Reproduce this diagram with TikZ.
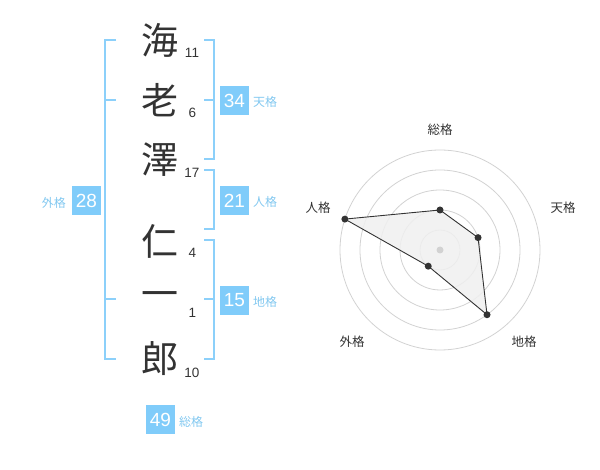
\documentclass[tikz,border=0pt]{standalone}
\usepackage{fontspec}
\usetikzlibrary{calc}
\setmainfont{Liberation Sans}
\newfontfamily\jp{Noto Sans CJK JP}
\definecolor{bline}{RGB}{140,208,250}
\definecolor{bbox}{RGB}{128,204,250}
\definecolor{blabel}{RGB}{130,200,240}
\definecolor{dk}{RGB}{51,51,51}
\definecolor{ring}{RGB}{210,210,210}
\definecolor{poly}{RGB}{240,240,240}
\begin{document}
\begin{tikzpicture}[x=1pt,y=-1pt,
  kanji/.style={font=\fontsize{37}{37}\selectfont\jp, text=dk, inner sep=0pt},
  strokes/.style={font=\fontsize{13.5}{13.5}\selectfont, text=dk, inner sep=0pt},
  bracket/.style={draw=bline, line width=2pt},
  valbox/.style={fill=bbox, minimum width=29pt, minimum height=29pt, inner sep=0pt, text=white, font=\fontsize{19}{19}\selectfont},
  kaku/.style={font=\fontsize{12}{12}\selectfont\jp, text=blabel, inner sep=0pt},
  axislab/.style={font=\fontsize{12.5}{12.5}\selectfont\jp, text=dk, inner sep=0pt},
  dot/.style={circle, fill=dk, inner sep=0pt, minimum size=7pt},
]
\useasboundingbox (0,0) rectangle (600,470);
% characters
\node[kanji] (c1) at (160,40) {海};
\node[kanji] (c2) at (160,100) {老};
\node[kanji] (c3) at (160,160) {澤};
\node[kanji] (c4) at (160,241) {仁};
\node[kanji] (c5) at (160,300) {一};
\node[kanji] (c6) at (160,359) {郎};
\node[strokes] (n1) at (192,53) {11};
\node[strokes] (n2) at (192.5,113) {6};
\node[strokes] (n3) at (192,173) {17};
\node[strokes] (n4) at (192.5,253) {4};
\node[strokes] (n5) at (192.5,313) {1};
\node[strokes] (n6) at (192,373) {10};
% brackets
\draw[bracket] (116,40) -- (105,40) -- (105,359) -- (116,359);
\draw[bracket] (105,100) -- (116,100);
\draw[bracket] (105,299) -- (116,299);
\draw[bracket] (204,40) -- (214,40) -- (214,159) -- (204,159);
\draw[bracket] (214,100) -- (204,100);
\draw[bracket] (204,170) -- (214,170) -- (214,229) -- (204,229);
\draw[bracket] (204,240) -- (214,240) -- (214,359) -- (204,359);
\draw[bracket] (214,299) -- (204,299);
% value boxes
\node[valbox] (v34) at (234.5,100.5) {34};
\node[kaku, anchor=west] (k34) at (253,102) {天格};
\node[valbox] (v21) at (234.5,200.5) {21};
\node[kaku, anchor=west] (k21) at (253,202) {人格};
\node[valbox] (v15) at (234.5,300.5) {15};
\node[kaku, anchor=west] (k15) at (253,302) {地格};
\node[valbox] (v28) at (86.5,200.5) {28};
\node[kaku, anchor=east] (k28) at (66,203) {外格};
\node[valbox] (v49) at (160.5,419.5) {49};
\node[kaku, anchor=west] (k49) at (179,422) {総格};
% radar
\coordinate (C) at (440,250);
\foreach \r in {20,40,60,80,100}
  \draw[ring, line width=0.8pt] (C) circle (\r);
\coordinate (p1) at ($(C)+(-90:40)$);
\coordinate (p2) at ($(C)+(-18:40)$);
\coordinate (p3) at ($(C)+(54:80)$);
\coordinate (p4) at ($(C)+(126:20)$);
\coordinate (p5) at ($(C)+(198:100)$);
\draw[fill=poly, fill opacity=0.85, draw=dk, line width=0.9pt] (p1) -- (p2) -- (p3) -- (p4) -- (p5) -- cycle;
\node[circle, fill=ring, inner sep=0pt, minimum size=7pt] (cen) at (C) {};
\foreach \i in {1,...,5} \node[dot] (d\i) at (p\i) {};
\node[axislab] (a1) at (440,130) {総格};
\node[axislab] (a2) at (563,208) {天格};
\node[axislab] (a3) at (524,342) {地格};
\node[axislab] (a4) at (352,342) {外格};
\node[axislab] (a5) at (318,208) {人格};
\end{tikzpicture}
\end{document}
